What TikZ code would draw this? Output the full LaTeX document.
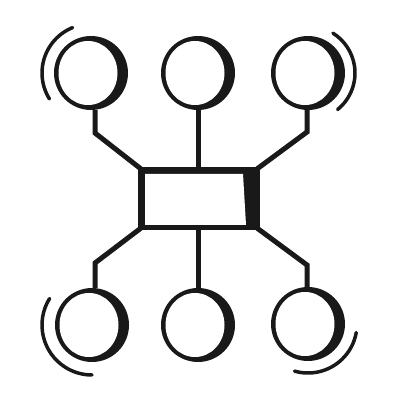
\documentclass[tikz,border=0pt]{standalone}
\usetikzlibrary{calc}
\tikzset{
  ring/.style={circle, fill=black!90, inner sep=0pt, minimum size=74pt,
    path picture={\fill[white] ($(path picture bounding box.center)+(-3pt,0)$) ellipse (29.5pt and 32pt);}},
  hub/.style={rectangle, fill=black!90, inner sep=0pt, minimum width=122pt, minimum height=63pt,
    path picture={\fill[white] ($(path picture bounding box.north west)+(7pt,-7pt)$) -- ($(path picture bounding box.north east)+(-17pt,-7pt)$) -- ($(path picture bounding box.south east)+(-14pt,5pt)$) -- ($(path picture bounding box.south west)+(7pt,5pt)$) -- cycle;}},
  wire/.style={line width=5pt, black!90},
  wave/.style={line width=3.5pt, black!90, line cap=round}
}
\begin{document}
\begin{tikzpicture}[x=1pt,y=1pt]
\useasboundingbox[fill=white] (0,0) rectangle (400,400);
\node[hub] (box) at (199,201.5) {};
\node[ring] (tl) at (91,327) {};
\node[ring] (tm) at (198,327) {};
\node[ring] (tr) at (308,327) {};
\node[ring] (bl) at (92,75) {};
\node[ring] (bm) at (198,75) {};
\node[ring] (br) at (308,76) {};
\coordinate (k1) at (95,267);
\coordinate (k3) at (307,268);
\coordinate (k4) at (95,137);
\coordinate (k6) at (307,135);
\draw[wire] (k1 |- tl.south) -- (k1) -- ($(box.north west)+(3,-2)$);
\draw[wire] (tm.south) -- (tm.south |- box.north);
\draw[wire] (k3 |- tr.south) -- (k3) -- ($(box.north east)+(-3,-2)$);
\draw[wire] (k4 |- bl.north) -- (k4) -- ($(box.south west)+(3,2)$);
\draw[wire] (bm.north) -- (bm.north |- box.south);
\draw[wire] (k6 |- br.north) -- (k6) -- ($(box.south east)+(-3,2)$);
\draw[wave] (tl.center) ++(112:49) arc[start angle=112, end angle=212, radius=49];
\draw[wave] (tr.center) ++(-51:47) arc[start angle=-51, end angle=58, radius=47];
\draw[wave] (bl.center) ++(148:50) arc[start angle=148, end angle=270, radius=50];
\draw[wave] (br.center) ++(254:49) arc[start angle=254, end angle=350, radius=49];
\end{tikzpicture}
\end{document}
